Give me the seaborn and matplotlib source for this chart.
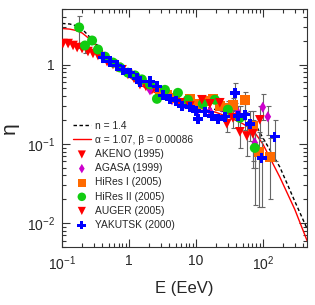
import numpy as np
import pandas as pd
import matplotlib
matplotlib.use("Agg")
import matplotlib.pyplot as plt
import seaborn as sns

# ─── DATA ──────────────────────────────────────────────────────────────────────
# model curves
n14_E   = [0.1, 0.13, 0.16, 0.2, 0.25, 0.3, 0.4, 0.5, 0.7, 1, 1.5, 2, 3, 5, 10, 20,
           35, 50, 81, 100, 180, 300, 460]
n14_eta = [3.3, 3.25, 3.1, 2.8, 2.3, 1.95, 1.5, 1.25, 0.98, 0.78, 0.6, 0.51, 0.43,
           0.37, 0.31, 0.27, 0.24, 0.21, 0.164, 0.12, 0.051, 0.019, 0.0085]

ab_E   = [0.1, 0.13, 0.16, 0.2, 0.25, 0.3, 0.4, 0.5, 0.7, 1, 1.5, 2, 3, 5, 10, 20,
          30, 50, 71, 100, 180, 300, 460]
ab_eta = [2.85, 2.8, 2.7, 2.5, 2.15, 1.85, 1.45, 1.2, 0.92, 0.7, 0.55, 0.48, 0.41,
          0.35, 0.29, 0.25, 0.22, 0.18, 0.15, 0.1, 0.038, 0.015, 0.006]

# experiments
akeno_E   = [0.103, 0.123, 0.146, 0.168, 0.199, 0.244, 0.290, 0.344, 0.409, 0.470,
             0.577, 0.662, 0.787, 0.966, 1.19, 1.46, 1.79, 2.20, 2.71]
akeno_eta = [1.84, 1.84, 1.74, 1.64, 1.59, 1.46, 1.38, 1.30, 1.19, 1.09,
             1.0, 0.92, 0.86, 0.75, 0.67, 0.56, 0.53, 0.48, 0.43]

agasa_E   = [2.06, 2.90, 4.39, 6.86, 10.7, 16.2, 24.4, 42.4, 76.0, 100, 119]
agasa_eta = [0.48, 0.44, 0.36, 0.32, 0.27, 0.26, 0.29, 0.25, 0.103, 0.29, 0.22]

hires1_E   = [2.90, 3.69, 4.86, 6.18, 8.14, 10.7, 14.1, 17.9, 22.8, 30.1, 35.7,
              53.9, 71.0, 87.1, 127]
hires1_eta = [0.44, 0.41, 0.38, 0.33, 0.37, 0.32, 0.35, 0.37, 0.30, 0.285, 0.31,
              0.36, 0.169, 0.079, 0.068]

hires2_E   = [0.180, 0.220, 0.281, 0.344, 0.438, 0.577, 0.734, 0.966, 1.23, 1.56,
              2.06, 2.62, 3.45, 5.39, 7.60, 12.7, 19.2, 30.1, 45.4, 76.0]
hires2_eta = [2.94, 1.74, 2.01, 1.55, 1.26, 1.06, 0.92, 0.79, 0.73, 0.65,
              0.56, 0.37, 0.48, 0.44, 0.36, 0.32, 0.36, 0.27, 0.213, 0.089]

auger_E   = [5.77, 8.14, 12.3, 16.2, 22.8, 29.0, 35.7, 45.4, 57.7, 71.0, 90.2]
auger_eta = [0.33, 0.30, 0.36, 0.32, 0.33, 0.179, 0.213, 0.142, 0.126, 0.134, 0.201]

yak_E   = [0.409, 0.520, 0.662, 0.813, 1.04, 1.32, 1.46, 2.06, 2.62, 3.22, 4.09,
           5.03, 6.18, 8.14, 10.0, 10.7, 13.6, 17.3, 21.3, 27.1, 38.2, 42.4, 53.9,
           64.0, 96.6, 151]
yak_eta = [1.23, 1.09, 0.97, 0.86, 0.79, 0.67, 0.61, 0.61, 0.53, 0.41, 0.37,
           0.35, 0.30, 0.29, 0.26, 0.207, 0.254, 0.226, 0.207, 0.22, 0.44, 0.226,
           0.233, 0.179, 0.066, 0.123]

# error bars (point, lower end, upper end)
err_E   = [0.180, 0.220, 0.281, 29.0, 30.1, 30.1, 35.7, 35.7, 38.2, 42.4, 45.4,
           45.4, 53.9, 53.9, 57.7, 64.0, 71.0, 71.0, 76.0, 76.0, 87.1, 90.2, 96.6,
           100, 119, 127, 151]
err_eta = [2.94, 1.74, 2.01, 0.179, 0.285, 0.27, 0.213, 0.31, 0.44, 0.226, 0.142,
           0.213, 0.36, 0.233, 0.126, 0.179, 0.169, 0.134, 0.089, 0.103, 0.079,
           0.201, 0.066, 0.29, 0.22, 0.068, 0.123]
err_lo  = [1.6, 1.4, 1.85, 0.14, 0.23, 0.22, 0.16, 0.26, 0.33, 0.16, 0.09,
           0.15, 0.25, 0.15, 0.07, 0.11, 0.05, 0.06, 0.017, 0.05, 0.016,
           0.12, 0.016, 0.2, 0.13, 0.02, 0.06]
err_hi  = [4.05, 1.95, 2.2, 0.23, 0.35, 0.33, 0.27, 0.38, 0.58, 0.3, 0.2,
           0.3, 0.45, 0.32, 0.19, 0.26, 0.26, 0.2, 0.15, 0.16, 0.14,
           0.3, 0.11, 0.42, 0.3, 0.12, 0.2]

# ─── STYLE ─────────────────────────────────────────────────────────────────────
sns.set_theme(style="ticks")
plt.rcParams['font.family'] = ['Liberation Sans', 'DejaVu Sans']
plt.rcParams['mathtext.fontset'] = 'custom'
plt.rcParams['mathtext.rm'] = 'Liberation Sans'
plt.rcParams['mathtext.it'] = 'Liberation Sans:italic'

fig = plt.figure(figsize=(3.15, 3.05), dpi=100)
ax = fig.add_axes([0.197, 0.19, 0.778, 0.78])
ax.set_xscale('log')
ax.set_yscale('log')

# ─── CURVES ────────────────────────────────────────────────────────────────────
sns.lineplot(x=n14_E, y=n14_eta, ax=ax, color='black', lw=1.0, linestyle=(0, (2.5, 1.8)),
             estimator=None, sort=False, label='n = 1.4', zorder=2)
sns.lineplot(x=ab_E, y=ab_eta, ax=ax, color='#ff0000', lw=1.0,
             estimator=None, sort=False, label='α = 1.07, β = 0.00086', zorder=2)

# ─── ERROR BARS ────────────────────────────────────────────────────────────────
yerr = [np.array(err_eta) - np.array(err_lo), np.array(err_hi) - np.array(err_eta)]
ax.errorbar(err_E, err_eta, yerr=yerr, fmt='none', ecolor='#666666',
            elinewidth=0.8, capsize=1.8, capthick=0.8, zorder=3)

# ─── DATA POINTS ───────────────────────────────────────────────────────────────
series = [
    (akeno_E,  akeno_eta,  'AKENO (1995)',     'v', '#ff0000', 48),
    (agasa_E,  agasa_eta,  'AGASA (1999)',     'd', '#cc00cc', 32),
    (hires1_E, hires1_eta, 'HiRes I (2005)',   's', '#ff6a00', 48),
    (hires2_E, hires2_eta, 'HiRes II (2005)',  'o', '#11cc11', 52),
    (auger_E,  auger_eta,  'AUGER (2005)',     'v', '#ff0000', 48),
    (yak_E,    yak_eta,    'YAKUTSK (2000)',   'P', '#0000ff', 55),
]
for E, eta, name, mk, col, sz in series:
    sns.scatterplot(x=E, y=eta, ax=ax, marker=mk, color=col, s=sz,
                    edgecolor='none', linewidth=0, label=name, zorder=4)

# ─── AXES ──────────────────────────────────────────────────────────────────────
ax.set_xlim(0.1, 460)
ax.set_ylim(0.005, 5)
ax.set_xticks([0.1, 1, 10, 100])
ax.set_xticklabels([r'$10^{-1}$', '1', '10', r'$10^{2}$'])
ax.set_yticks([0.01, 0.1, 1])
ax.set_yticklabels([r'$10^{-2}$', r'$10^{-1}$', '1'])
ax.tick_params(which='both', direction='in', top=True, right=True,
               labelsize=10, color='#333333', width=0.8, pad=5)
ax.tick_params(which='major', length=6)
ax.tick_params(which='minor', length=3)
for sp in ax.spines.values():
    sp.set_linewidth(0.8)
    sp.set_color('#333333')

ax.set_xlabel('E (EeV)', fontsize=12, labelpad=6)
ax.set_ylabel('η', fontsize=15, labelpad=6)

ax.legend(loc='upper left', bbox_to_anchor=(0.045, 0.53), frameon=False,
          fontsize=7.4, borderpad=0, borderaxespad=0, handlelength=1.7,
          handletextpad=0.45, labelspacing=0.4, markerscale=0.85)

plt.savefig('out.png', dpi=100)
